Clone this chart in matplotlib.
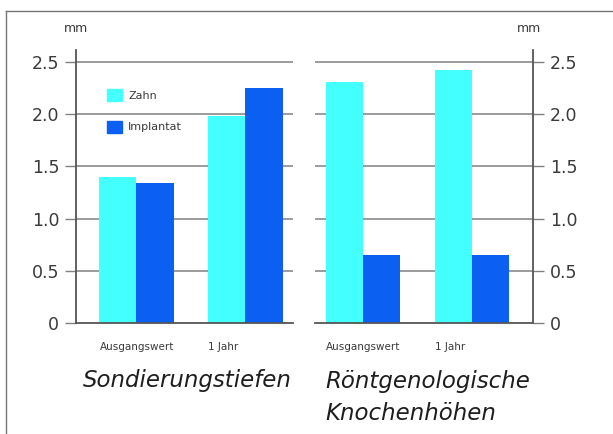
import numpy as np
import matplotlib
matplotlib.use("Agg")
import matplotlib.pyplot as plt
from matplotlib.lines import Line2D
from matplotlib.patches import Patch

# data
categories = ["Ausgangswert", "1 Jahr"]
series = ["Zahn", "Implantat"]
sondierung_zahn = [1.40, 1.98]
sondierung_implantat = [1.34, 2.25]
roentgen_zahn = [2.31, 2.42]
roentgen_implantat = [0.65, 0.65]
yticks = [0, 0.5, 1.0, 1.5, 2.0, 2.5]
ytick_labels = ["0", "0.5", "1.0", "1.5", "2.0", "2.5"]

cyan = "#44ffff"
blue = "#0b60f2"
grid_c = "#808080"
axis_c = "#555555"
text_c = "#3a3a3a"

W, H = 613, 434
fig = plt.figure(figsize=(W / 100, H / 100), dpi=100)


def px_box(x0, x1, y_top, y_bot):
    return [x0 / W, 1 - y_bot / H, (x1 - x0) / W, (y_bot - y_top) / H]


bw = 0.34
ymax = 2.62


def panel(rect, zahn, impl, xlim, side):
    ax = fig.add_axes(rect)
    x = np.arange(len(categories))
    ax.bar(x - bw / 2, zahn, bw, color=cyan, zorder=2)
    ax.bar(x + bw / 2, impl, bw, color=blue, zorder=2)
    ax.set_xlim(*xlim)
    ax.set_ylim(0, ymax)
    for v in yticks[1:]:
        ax.axhline(v, color=grid_c, lw=1.1, zorder=1)
    for s in ax.spines.values():
        s.set_visible(False)
    ax.spines["bottom"].set_visible(True)
    ax.spines["bottom"].set_color(axis_c)
    ax.spines["bottom"].set_linewidth(1.3)
    ax.spines[side].set_visible(True)
    ax.spines[side].set_color(axis_c)
    ax.spines[side].set_linewidth(1.3)
    ax.set_yticks(yticks, ytick_labels)
    if side == "right":
        ax.yaxis.tick_right()
    ax.tick_params(axis="y", length=8, width=1, color=grid_c, pad=4,
                   labelsize=12.5, labelcolor=text_c)
    ax.set_xticks(x - bw, categories, ha="left")
    ax.tick_params(axis="x", length=0, pad=14, labelsize=7.5, labelcolor=text_c)
    ax.patch.set_alpha(0)
    return ax


ax1 = panel(px_box(76, 293, 49.5, 323), sondierung_zahn, sondierung_implantat,
            (-0.555, 1.436), "left")
ax2 = panel(px_box(315, 533, 49.5, 323), roentgen_zahn, roentgen_implantat,
            (-0.444, 1.556), "right")

handles = [Patch(color=cyan, label=series[0]), Patch(color=blue, label=series[1])]
ax1.legend(handles=handles, loc="upper left", bbox_to_anchor=(107 / W, 1 - 89 / H),
           bbox_transform=fig.transFigure, frameon=False, fontsize=8,
           handlelength=1.35, handleheight=1.26, labelspacing=1.8,
           handletextpad=0.55, borderpad=0, borderaxespad=0,
           labelcolor=text_c)

fig.text(76 / W, 1 - 29 / H, "mm", ha="center", va="center", fontsize=9, color=text_c)
fig.text(529 / W, 1 - 29 / H, "mm", ha="center", va="center", fontsize=9, color=text_c)

title_kw = dict(ha="left", va="baseline", fontsize=16.5, style="italic", color="#1e1e1e")
fig.text(83 / W, 1 - 387 / H, "Sondierungstiefen", **title_kw)
fig.text(325 / W, 1 - 388 / H, "Röntgenologische", **title_kw)
fig.text(325 / W, 1 - 420 / H, "Knochenhöhen", **title_kw)

# outer frame (top and left edge only)
fig.add_artist(Line2D([6 / W, 1], [1 - 11 / H, 1 - 11 / H], color="#777777", lw=1,
                      transform=fig.transFigure))
fig.add_artist(Line2D([6 / W, 6 / W], [0, 1 - 11 / H], color="#777777", lw=1,
                      transform=fig.transFigure))

fig.savefig("out.png", dpi=100)
